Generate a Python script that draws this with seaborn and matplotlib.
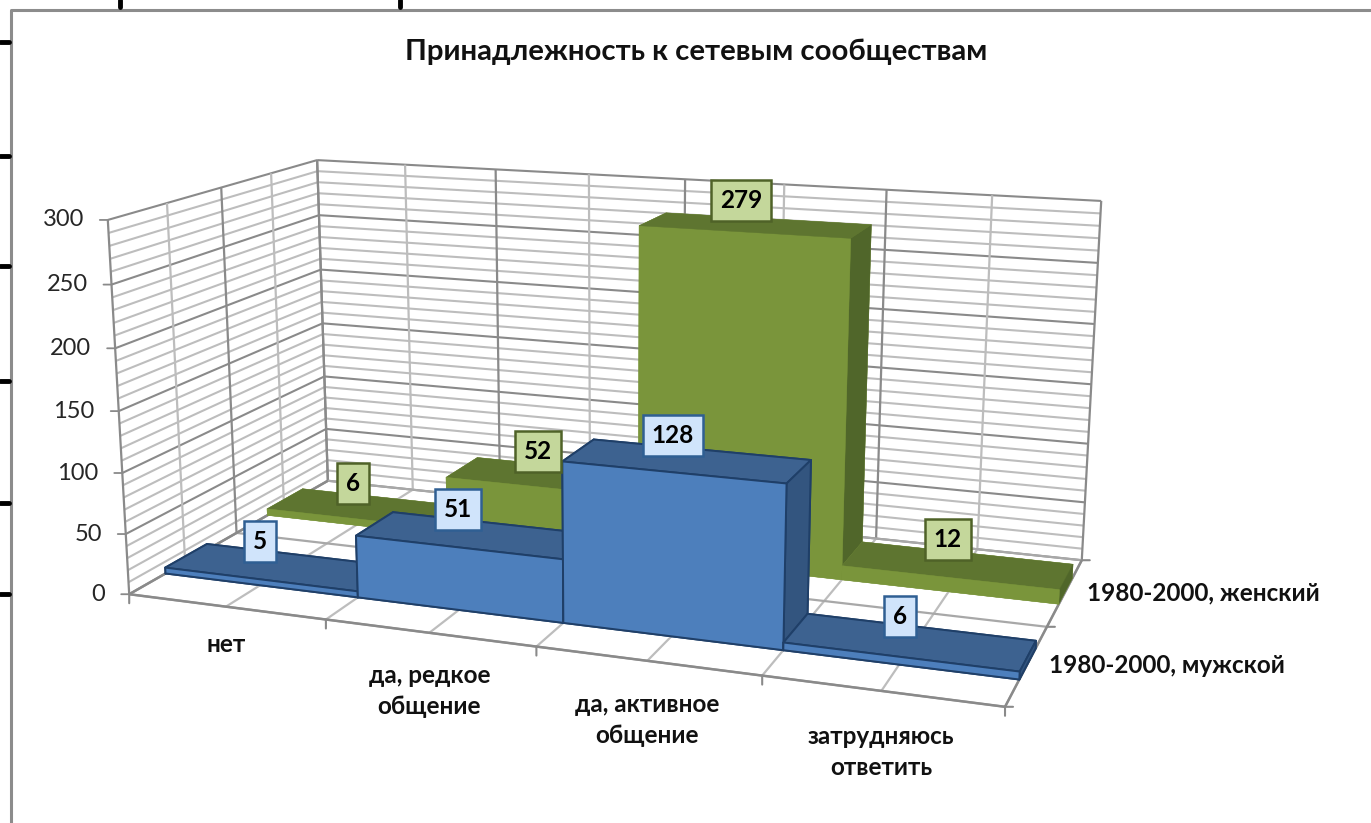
import numpy as np
import matplotlib
matplotlib.use('Agg')
import matplotlib.pyplot as plt
import seaborn as sns
from matplotlib.lines import Line2D
from mpl_toolkits.mplot3d.art3d import Line3DCollection

sns.set_theme(style='white')
plt.rcParams['font.family'] = ['Lato', 'Noto Sans']

categories = ['нет', 'да, редкое\nобщение', 'да, активное\nобщение', 'затрудняюсь\nответить']
series_names = ['1980-2000, мужской', '1980-2000, женский']
male = [5, 51, 128, 6]
female = [6, 52, 279, 12]
z_ticks = [0, 50, 100, 150, 200, 250, 300]

W, H = 1371, 823
fig = plt.figure(figsize=(W / 100, H / 100), dpi=100, facecolor='white')
# square axes, so mplot3d does not shrink them
h = W / H
ax = fig.add_axes([0, (1 - h) / 2, 1, h], projection='3d', computed_zorder=False)
ax.set_axis_off()

#%% camera fitted to the corners of the chart box (x, y, z) -> pixel
box = [(0, 0, 0), (0, 0, 300), (0, 2, 300), (4, 2, 300), (0, 2, 0), (4, 2, 0), (4, 0, 0)]
pix = [(130, 594), (107, 220), (318, 160), (1101, 201), (327, 481), (1082, 560), (1005, 707)]
rows, rhs = [], []
for (X, Y, Z), (u, v) in zip(box, pix):
    rows.append([X, Y, Z, 1, 0, 0, 0, 0, -u * X, -u * Y, -u * Z])
    rows.append([0, 0, 0, 0, X, Y, Z, 1, -v * X, -v * Y, -v * Z])
    rhs += [u, v]
p = np.linalg.lstsq(np.array(rows, float), np.array(rhs, float), rcond=None)[0]
P = np.append(p, 1.0).reshape(3, 4)

# pixels -> the 2d coords the 3d axes draw in
inv = ax.transData.inverted()
v0 = inv.transform((0, H))
v1 = inv.transform((W, 0))
sx, sy = (v1[0] - v0[0]) / W, (v1[1] - v0[1]) / H
M = np.array([
    sx * P[0] + v0[0] * P[2],
    sy * P[1] + v0[1] * P[2],
    P[2] - np.array([0, 0, 0, 0.5]),
    P[2],
])
ax.get_proj = lambda: M


def project(x, y, z):
    q = M @ np.array([x, y, z, 1.0])
    return q[0] / q[3], q[1] / q[3]


def grid_line(a, b, color, lw=1.6):
    # ax.plot lines do not show with this camera, a 3d collection does
    col = Line3DCollection([[a, b]], colors=color, linewidths=lw, zorder=1)
    ax.add_collection3d(col, autolim=False)


#%% walls and floor
light, dark = '#BDBDBD', '#8A8A8A'
for z in np.arange(0, 301, 10):
    c = dark if z % 50 == 0 else light
    grid_line((0, 0, z), (0, 2, z), c, 1.5)
    grid_line((0, 2, z), (4, 2, z), c, 1.5)
for x in np.arange(0, 4.01, 0.5):
    c = dark if x % 1 == 0 else light
    grid_line((x, 2, 0), (x, 2, 300), c)
    grid_line((x, 0, 0), (x, 2, 0), light)
for y in np.arange(0, 2.01, 0.5):
    c = dark if y % 1 == 0 else light
    grid_line((0, y, 0), (0, y, 300), c)
    if y % 1 == 0:
        grid_line((0, y, 0), (4, y, 0), '#A8A8A8')
grid_line((4, 0, 0), (4, 2, 0), dark, 1.8)
grid_line((0, 0, 0), (4, 0, 0), dark, 1.8)
grid_line((0, 0, 0), (0, 2, 0), dark, 1.8)

#%% bars
blue = ['#4F81BD', '#3D6290', '#4D7FBC', '#4F81BD', '#4F81BD', '#33557F']
green = ['#7A953B', '#5E7530', '#7A953B', '#7A953B', '#7A953B', '#50662A']
y_front = [0.32, 1.32]
depth = 0.39
for j, (vals, cols, edge) in enumerate([(female, green, None), (male, blue, '#1F3F68')]):
    iy = 1 - j
    for i, val in enumerate(vals):
        ax.bar3d(i, y_front[iy], 0, 1, depth, val, color=cols, shade=False,
                 edgecolor=edge if edge else cols, linewidth=1.4 if edge else 0.3,
                 zorder=10 + 10 * j + i)

#%% value labels
styles = [('#D0E4FB', '#2F5F93'), ('#C4D79B', '#4F6228')]
label_shift = [-20, -17, -14, -10]
for iy, vals in enumerate([male, female]):
    for i, val in enumerate(vals):
        xy = project(i + 0.5, y_front[iy] + depth / 2, val)
        ax.annotate(str(val), xy, xytext=(label_shift[i], 25), textcoords='offset pixels',
                    ha='center', va='center', fontsize=17.5, fontweight='bold', color='black',
                    bbox=dict(boxstyle='square,pad=0.37', fc=styles[iy][0], ec=styles[iy][1], lw=1.8),
                    zorder=60)

#%% axis ticks and labels
for z in z_ticks:
    xy = project(0, 0, z)
    ax.annotate('', xy, xytext=(-8, 0), textcoords='offset pixels',
                arrowprops=dict(arrowstyle='-', color=dark, lw=1.3, shrinkA=0, shrinkB=0))
    ax.annotate(str(z), xy, xytext=(-24, 0), textcoords='offset pixels', ha='right', va='center',
                fontsize=17, color='#262626')
for x in range(5):
    ax.annotate('', project(x, 0, 0), xytext=(0, -9), textcoords='offset pixels',
                arrowprops=dict(arrowstyle='-', color=dark, lw=1.5, shrinkA=0, shrinkB=0))
for y in range(3):
    ax.annotate('', project(4, y, 0), xytext=(8, 0), textcoords='offset pixels',
                arrowprops=dict(arrowstyle='-', color=dark, lw=1.5, shrinkA=0, shrinkB=0))
label_drop = [26, 31, 32, 34]
for i, cat in enumerate(categories):
    ax.annotate(cat, project(i + 0.5, 0, 0), xytext=(0, -label_drop[i]), textcoords='offset pixels',
                ha='center', va='top', fontsize=17.5, fontweight='bold', color='#111111', linespacing=1.43)
for iy, name in enumerate(series_names):
    ax.annotate(name, project(4, y_front[iy] + depth / 2, 0), xytext=(21, -2), textcoords='offset pixels',
                ha='left', va='center', fontsize=17.5, fontweight='bold', color='#111111')

fig.text(696 / W, 1 - 52 / H, 'Принадлежность к сетевым сообществам', ha='center', va='center',
         fontsize=21.2, fontweight='bold', color='#111111')

#%% frame of the sheet behind the chart
def px_line(xs, ys, color, lw):
    fig.add_artist(Line2D([x / W for x in xs], [1 - y / H for y in ys], color=color, lw=lw))


px_line([11, 11, W], [H, 10, 10], '#8C8C8C', 2.2)
for y in [42, 156, 266, 381, 503, 594]:
    px_line([0, 9], [y, y], 'black', 3.5)
for x in [120, 400]:
    px_line([x, x], [0, 7], 'black', 3.5)

fig.savefig('out.png', dpi=100)
